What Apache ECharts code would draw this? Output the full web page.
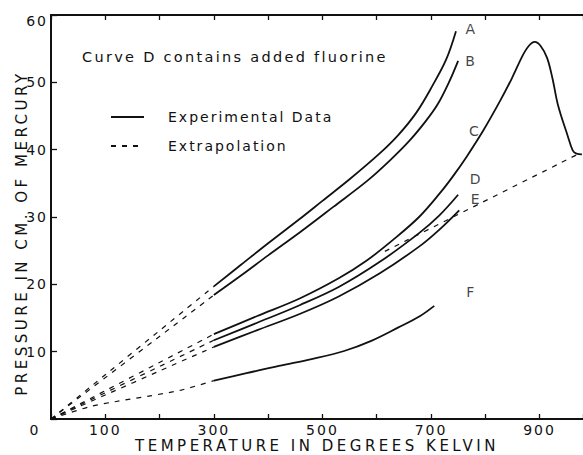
<!DOCTYPE html>
<html>
<head>
<meta charset="utf-8">
<script src="https://cdn.jsdelivr.net/npm/echarts@6/dist/echarts.min.js"></script>
<style>
  html, body { margin: 0; padding: 0; background: #fff; }
  #chart { width: 583px; height: 455px; }
  /* the original lettering is widely spaced */
  #chart svg text { letter-spacing: 2px; }
  #chart svg text[style*="14.5px"] { letter-spacing: 2.3px; }
  #chart svg text[style*="15px"] { letter-spacing: 3.5px; }
</style>
</head>
<body>
<div id="chart"></div>
<script>
// measured curves, [temperature K, pressure cm Hg]
const curveA = [[300, 19.7], [350, 22.9], [400, 26.1], [458, 29.7], [500, 32.4], [550, 35.6], [605, 39.4], [640, 42.2], [673, 45.5], [702, 49.4], [728, 53.4], [746, 57.6]];
const curveB = [[300, 18.4], [350, 21.3], [400, 24.3], [458, 27.7], [520, 31.5], [583, 35.4], [623, 38.3], [660, 41.3], [690, 44.2], [712, 46.7], [733, 50.0], [750, 53.2]];
const curveC = [[300, 12.6], [380, 15.3], [458, 17.9], [530, 20.9], [581, 23.5], [630, 26.6], [678, 30.0], [716, 33.5], [740, 36.0], [766, 39.0], [796, 42.8], [827, 47.2], [849, 50.6], [869, 54.0], [880, 55.4], [891, 56.0], [902, 55.4], [914, 53.6], [924, 50.5], [934, 46.6], [952, 42.0], [961, 39.9], [968, 39.4], [978, 39.3]];
const curveD = [[300, 11.7], [380, 14.3], [458, 16.9], [530, 19.6], [605, 23.3], [678, 27.6], [715, 30.2], [750, 33.3]];
const curveE = [[300, 10.7], [380, 13.2], [458, 15.6], [530, 18.2], [605, 21.6], [678, 25.6], [715, 28.1], [752, 31.0]];
const curveF = [[300, 5.7], [360, 6.8], [420, 7.9], [480, 8.9], [540, 10.1], [590, 11.6], [640, 13.6], [680, 15.3], [706, 16.8]];

// extrapolated parts (dashed)
const extraA = [[0, 0], [300, 19.7]];
const extraB = [[0, 0], [300, 18.4]];
const extraC = [[0, 0], [300, 12.6]];
const extraD = [[0, 0], [300, 11.7]];
const extraE = [[0, 0], [300, 10.7]];
const extraF = [[0, 0], [70, 1.8], [120, 2.6], [180, 3.4], [240, 4.3], [300, 5.7]];
const extraLine = [[615, 24.9], [975, 39.5]];

// curve letters and where they sit
const curveNames = ["A", "B", "C", "D", "E", "F"];
const curveNameAt = [[774, 57.9], [774, 53.1], [781, 42.8], [783, 35.6], [783, 32.6], [774, 18.9]];

const xLabels = [0, 100, 300, 500, 700, 900];

const font = "DejaVu Sans";
const ink = "#111";

function solid(data) {
  return {
    type: "line", name: "Experimental Data", data: data,
    smooth: 0.35, symbol: "none", z: 3,
    itemStyle: { color: ink },
    lineStyle: { color: ink, width: 1.8 }
  };
}
function dashed(data) {
  return {
    type: "line", name: "Extrapolation", data: data,
    smooth: 0.3, symbol: "none",
    itemStyle: { color: ink },
    lineStyle: { color: ink, width: 1.2, type: [5, 6] }
  };
}

const option = {
  animation: false,
  backgroundColor: "#fff",
  textStyle: { fontFamily: font, color: ink },
  grid: { left: 51, right: 0, top: 15, bottom: 36, outerBoundsMode: "none" },
  legend: {
    data: ["Experimental Data", "Extrapolation"],
    orient: "vertical",
    left: 105, top: 105,
    itemWidth: 33, itemHeight: 14, itemGap: 15,
    itemStyle: { opacity: 0 },
    textStyle: { fontSize: 14, color: ink, fontFamily: font, padding: [0, 0, 0, 19] }
  },
  graphic: [
    {
      type: "text", x: 82, y: 57,
      style: { text: "Curve D contains added fluorine", fill: ink, font: "14.5px " + font, verticalAlign: "middle" }
    }
  ],
  xAxis: [
    {
      type: "value", min: 0, max: 980, interval: 100,
      axisLine: { lineStyle: { color: ink, width: 2 } },
      axisTick: { inside: true, length: 5, lineStyle: { color: ink, width: 1.3 } },
      splitLine: { show: false },
      axisLabel: {
        color: ink, fontSize: 14, lineHeight: 12, fontFamily: font, margin: 5,
        formatter: (v) => {
          if (!xLabels.includes(v)) return "";
          return v === 0 ? "{z|0}" : String(v);
        },
        rich: { z: { fontSize: 14, lineHeight: 12, fontFamily: font, color: ink, padding: [0, 32, 0, 0] } }
      },
      name: "TEMPERATURE IN DEGREES KELVIN",
      nameLocation: "middle", nameGap: 20, nameMoveOverlap: false,
      nameTextStyle: { fontSize: 15, lineHeight: 13, color: ink, fontFamily: font }
    },
    {
      type: "value", position: "top", min: 0, max: 980, interval: 100,
      axisLine: { lineStyle: { color: ink, width: 2 } },
      axisTick: { inside: true, length: 5, lineStyle: { color: ink, width: 1.3 } },
      splitLine: { show: false },
      axisLabel: { show: false }
    }
  ],
  yAxis: {
    type: "value", min: 0, max: 60, interval: 10,
    axisLine: { show: true, lineStyle: { color: ink, width: 2 } },
    axisTick: { show: true, inside: true, length: 6, lineStyle: { color: ink, width: 1.3 } },
    splitLine: { show: false },
    axisLabel: {
      color: ink, fontSize: 14, fontFamily: font, margin: 3,
      formatter: (v) => (v === 0 ? "" : v === 60 ? "{t|60}" : String(v)),
      rich: { t: { fontSize: 14, fontFamily: font, color: ink, padding: [12, 0, 0, 0] } }
    },
    name: "PRESSURE IN CM. OF MERCURY",
    nameLocation: "middle", nameGap: 23, nameMoveOverlap: false,
    nameTextStyle: { fontSize: 15, lineHeight: 13, color: ink, fontFamily: font, padding: [0, 32, 0, 0] }
  },
  series: [
    solid(curveA), solid(curveB), solid(curveC), solid(curveD), solid(curveE), solid(curveF),
    dashed(extraA), dashed(extraB), dashed(extraC), dashed(extraD), dashed(extraE), dashed(extraF),
    dashed(extraLine),
    {
      type: "scatter", name: "labels", symbolSize: 1,
      itemStyle: { color: "transparent" },
      data: curveNames.map((n, i) => [curveNameAt[i][0], curveNameAt[i][1], n]),
      label: {
        show: true, position: "inside", color: ink, fontSize: 14, fontFamily: font,
        formatter: (p) => p.data[2]
      }
    }
  ]
};

const chart = echarts.init(document.getElementById("chart"), null, { renderer: "svg" });
chart.setOption(option);
</script>
</body>
</html>
